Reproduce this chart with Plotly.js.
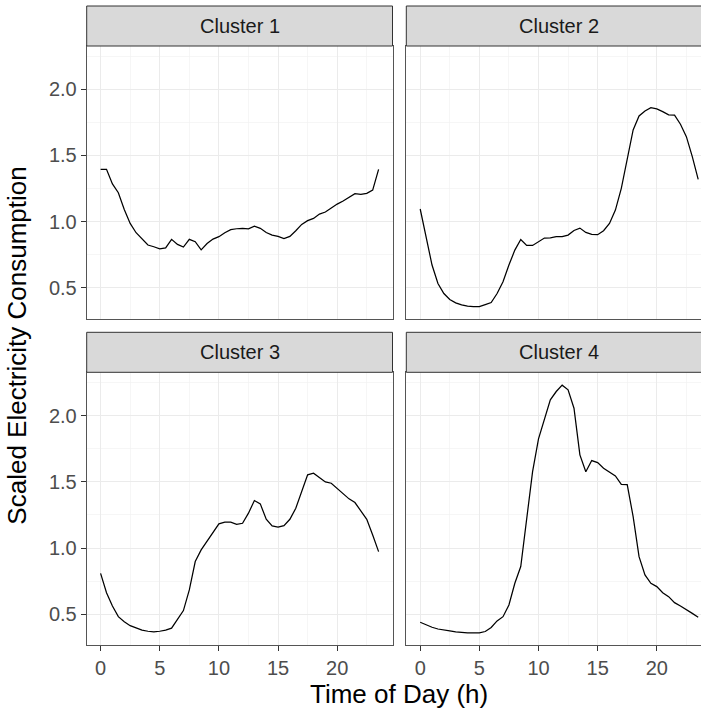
<!DOCTYPE html>
<html>
<head>
<meta charset="utf-8">
<script src="https://cdn.plot.ly/plotly-3.0.1.min.js"></script>
<style>
html,body{margin:0;padding:0;overflow:hidden;background:#fff;}
#chart{width:716px;height:713px;}
</style>
</head>
<body>
<div id="chart"></div>
<script>
// ---- data ----
const hours = [0,0.5,1,1.5,2,2.5,3,3.5,4,4.5,5,5.5,6,6.5,7,7.5,8,8.5,9,9.5,10,10.5,11,11.5,
               12,12.5,13,13.5,14,14.5,15,15.5,16,16.5,17,17.5,18,18.5,19,19.5,20,20.5,21,21.5,22,22.5,23,23.5];
const clusterNames = ["Cluster 1","Cluster 2","Cluster 3","Cluster 4"];
const cluster1 = [1.395,1.395,1.285,1.219,1.093,0.987,0.917,0.867,0.824,0.811,0.796,0.803,
                  0.867,0.829,0.809,0.867,0.849,0.788,0.836,0.869,0.887,0.917,0.940,0.947,
                  0.950,0.947,0.967,0.950,0.919,0.899,0.889,0.872,0.889,0.932,0.980,1.008,
                  1.025,1.058,1.073,1.103,1.133,1.156,1.184,1.212,1.207,1.214,1.239,1.395];
const cluster2 = [1.096,0.887,0.673,0.534,0.458,0.413,0.388,0.373,0.363,0.360,0.360,0.375,
                  0.390,0.458,0.547,0.673,0.786,0.866,0.821,0.821,0.849,0.877,0.879,0.887,
                  0.887,0.899,0.934,0.952,0.919,0.904,0.902,0.932,0.987,1.088,1.252,1.479,
                  1.693,1.798,1.836,1.861,1.851,1.831,1.806,1.804,1.736,1.642,1.491,1.320];
const cluster3 = [0.809,0.663,0.563,0.482,0.444,0.414,0.397,0.380,0.372,0.368,0.372,0.380,
                  0.395,0.462,0.528,0.684,0.898,0.986,1.054,1.124,1.182,1.195,1.195,1.179,
                  1.187,1.263,1.358,1.333,1.217,1.167,1.157,1.169,1.217,1.300,1.426,1.552,
                  1.565,1.529,1.499,1.489,1.451,1.408,1.371,1.343,1.283,1.217,1.099,0.973];
const cluster4 = [0.440,0.419,0.402,0.389,0.380,0.375,0.368,0.362,0.360,0.360,0.360,0.370,
                  0.400,0.450,0.482,0.570,0.734,0.860,1.212,1.577,1.824,1.980,2.118,2.181,
                  2.229,2.194,2.055,1.703,1.575,1.660,1.645,1.602,1.570,1.544,1.481,1.479,
                  1.237,0.935,0.797,0.734,0.709,0.663,0.633,0.588,0.563,0.538,0.507,0.477];
const xTickVals = [0,5,10,15,20];
const yTickVals = [0.5,1.0,1.5,2.0];
const yTickText = ["0.5","1.0","1.5","2.0"];
const xTitle = "Time of Day (h)";
const yTitle = "Scaled Electricity Consumption";

// ---- geometry (pixels) ----
const W = 716, H = 713;
const colX = [[86.7, 392.5],[406.3, 712.1]];
const rowY = [[46, 319],[372.3, 645.3]];   // top, bottom in px from top
const stripH = 40;
const px = v => v / W;
const py = v => (H - v) / H;

const font = "'Liberation Sans', Arial, Helvetica, sans-serif";
const series = [cluster1, cluster2, cluster3, cluster4];

const traces = series.map((ys, i) => ({
  type: 'scatter', mode: 'lines', x: hours, y: ys,
  xaxis: 'x' + (i === 0 ? '' : i + 1), yaxis: 'y' + (i === 0 ? '' : i + 1),
  line: {color: '#000000', width: 1.25}, hoverinfo: 'skip', showlegend: false
}));

const layout = {
  width: W, height: H,
  margin: {l: 0, r: 0, t: 0, b: 0},
  paper_bgcolor: '#ffffff', plot_bgcolor: '#ffffff',
  font: {family: font, color: '#000'},
  showlegend: false, shapes: [], annotations: []
};

for (let i = 0; i < 4; i++) {
  const col = i % 2, row = Math.floor(i / 2);
  const sfx = i === 0 ? '' : String(i + 1);
  const bottomRow = row === 1, leftCol = col === 0;
  layout['xaxis' + sfx] = {
    domain: [px(colX[col][0]), px(colX[col][1])],
    anchor: 'y' + sfx, range: [-1.175, 24.675],
    tickmode: 'array', tickvals: xTickVals,
    showticklabels: bottomRow, ticks: bottomRow ? 'outside' : '',
    ticklen: 5, tickwidth: 1, tickcolor: '#333333',
    tickfont: {family: font, size: 20, color: '#4D4D4D'},
    showgrid: true, gridcolor: '#EBEBEB', gridwidth: 1,
    minor: {tickvals: [2.5,7.5,12.5,17.5,22.5], showgrid: true, gridcolor: '#F2F2F2', gridwidth: 0.7, ticks: ''},
    zeroline: false, showline: true, mirror: true, linecolor: '#555555', linewidth: 1,
    fixedrange: true
  };
  layout['yaxis' + sfx] = {
    domain: [py(rowY[row][1]), py(rowY[row][0])],
    anchor: 'x' + sfx, range: [0.266, 2.326],
    tickmode: 'array', tickvals: yTickVals, ticktext: yTickText,
    showticklabels: leftCol, ticks: leftCol ? 'outside' : '',
    ticklen: 5, tickwidth: 1, tickcolor: '#333333',
    tickfont: {family: font, size: 20, color: '#4D4D4D'},
    showgrid: true, gridcolor: '#EBEBEB', gridwidth: 1,
    minor: {tickvals: [0.75,1.25,1.75,2.25], showgrid: true, gridcolor: '#F2F2F2', gridwidth: 0.7, ticks: ''},
    zeroline: false, showline: true, mirror: true, linecolor: '#555555', linewidth: 1,
    fixedrange: true
  };
  // strip
  const sTop = rowY[row][0] - stripH, sBot = rowY[row][0];
  layout.shapes.push({
    type: 'rect', xref: 'paper', yref: 'paper',
    x0: px(colX[col][0]), x1: px(colX[col][1]), y0: py(sBot), y1: py(sTop),
    fillcolor: '#D9D9D9', line: {color: '#333333', width: 1}, layer: 'above'
  });
  layout.annotations.push({
    xref: 'paper', yref: 'paper', showarrow: false,
    x: px((colX[col][0] + colX[col][1]) / 2), y: py((sTop + sBot) / 2),
    xanchor: 'center', yanchor: 'middle',
    text: clusterNames[i], font: {family: font, size: 20, color: '#1A1A1A'}
  });
}

layout.annotations.push({
  xref: 'paper', yref: 'paper', showarrow: false,
  x: px((colX[0][0] + colX[1][1]) / 2), y: py(694),
  xanchor: 'center', yanchor: 'middle',
  text: xTitle, font: {family: font, size: 26, color: '#000000'}
});
layout.annotations.push({
  xref: 'paper', yref: 'paper', showarrow: false,
  x: px(17), y: py((rowY[0][0] + rowY[1][1]) / 2),
  xanchor: 'center', yanchor: 'middle', textangle: -90,
  text: yTitle, font: {family: font, size: 26, color: '#000000'}
});

Plotly.newPlot('chart', traces, layout, {displayModeBar: false, staticPlot: true});
</script>
</body>
</html>
